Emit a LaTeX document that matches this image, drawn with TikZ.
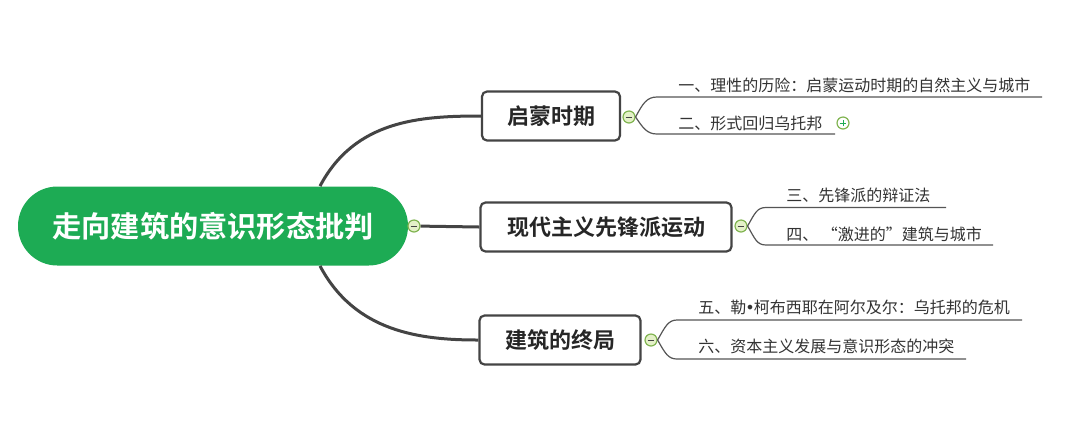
\documentclass[tikz,border=0pt]{standalone}
\usepackage{fontspec}
\setmainfont{Noto Sans CJK SC}[BoldFont={Noto Sans CJK SC Bold}]
\newfontfamily\dotfont{DejaVu Sans}
\usetikzlibrary{positioning}

\definecolor{rootgreen}{RGB}{29,171,84}
\definecolor{linegray}{RGB}{68,68,68}
\definecolor{subgray}{RGB}{85,85,85}
\definecolor{togglefill}{RGB}{228,241,200}
\definecolor{toggleline}{RGB}{128,180,80}

\begin{document}
\begin{tikzpicture}[x=0.5pt,y=-0.5pt,
  root/.style={fill=rootgreen, text=white, font=\bfseries\fontsize{14.6}{16}\selectfont,
    rounded corners=19.7pt, minimum width=195pt, minimum height=39.5pt, inner sep=0pt},
  topic/.style={draw=linegray, line width=1.1pt, fill=white, rounded corners=2.5pt,
    text=black!85, font=\bfseries\fontsize{11}{13}\selectfont, minimum height=24.5pt, inner sep=0pt},
  subtopic/.style={font=\fontsize{8}{10}\selectfont, text=black!80, anchor=base west, inner sep=0pt},
  toggle/.style={circle, draw=toggleline, fill=togglefill, minimum size=6pt, inner sep=0pt, line width=0.6pt,
    path picture={\draw[linegray, line width=0.4pt] ([xshift=-1.7pt]path picture bounding box.center)
      -- ([xshift=1.7pt]path picture bounding box.center);}},
  expand/.style={circle, draw=toggleline, fill=white, minimum size=6pt, inner sep=0pt, line width=0.6pt,
    path picture={\draw[rootgreen, line width=0.45pt] ([xshift=-1.7pt]path picture bounding box.center)
      -- ([xshift=1.7pt]path picture bounding box.center)
      ([yshift=-1.7pt]path picture bounding box.center) -- ([yshift=1.7pt]path picture bounding box.center);}},
  mainlink/.style={draw=linegray, line width=1.5pt},
  sublink/.style={draw=subgray, line width=0.6pt}
]
\fill[white] (0,0) rectangle (1080,425);
\useasboundingbox (0,0) rectangle (1080,425);

% root and main topics
\node[root] (root) at (213,226) {走向建筑的意识形态批判};
\node[toggle] (tgroot) at (414,226) {};
\node[topic, minimum width=69pt] (enlight) at (551,116) {启蒙时期};
\node[topic, minimum width=125.5pt] (avant) at (606,227) {现代主义先锋派运动};
\node[topic, minimum width=80.5pt] (endgame) at (560,340) {建筑的终局};

\coordinate (rtop) at ([xshift=53.5pt]root.north);
\coordinate (rbot) at ([xshift=53.5pt]root.south);
\draw[mainlink] (rtop) .. controls (355,120) and (420,116) .. (enlight.west);
\draw[mainlink] (rbot) .. controls (355,332) and (420,340) .. (endgame.west);
\draw[mainlink] (tgroot) -- (avant.west);

% toggles of the topics
\node[toggle] (tgenl) at (629,117) {};
\node[toggle] (tgava) at (741,226) {};
\node[toggle] (tgend) at (651,340) {};

% enlightenment
\coordinate (b1) at (657,97);  \coordinate (e1) at (1042,97);
\coordinate (b2) at (657,134); \coordinate (e2) at (835,134);
\node[subtopic] (sone) at (678,91) {一、理性的历险：启蒙运动时期的自然主义与城市};
\node[subtopic] (stwo) at (678,129) {二、形式回归乌托邦};
\node[expand] (tgplus) at (843,123) {};
\draw[sublink] (tgenl.east) .. controls (643,103) and (647,97) .. (b1) -- (e1);
\draw[sublink] (tgenl.east) .. controls (643,128) and (647,134) .. (b2) -- (e2);

% avant-garde
\coordinate (b3) at (766,207.5); \coordinate (e3) at (946,207.5);
\coordinate (b4) at (766,245);   \coordinate (e4) at (993,245);
\node[subtopic] (sthree) at (786,201) {三、先锋派的辩证法};
\node[subtopic] (sfour) at (786,240) {四、 “激进的”建筑与城市};
\draw[sublink] (tgava.east) .. controls (755,213) and (757,207.5) .. (b3) -- (e3);
\draw[sublink] (tgava.east) .. controls (755,239) and (757,245) .. (b4) -- (e4);

% endgame
\coordinate (b5) at (677,320); \coordinate (e5) at (1022,320);
\coordinate (b6) at (677,359); \coordinate (e6) at (966,359);
\node[subtopic] (sfive) at (698,313) {五、勒{\dotfont\kern-0.5pt•\kern-0.5pt}柯布西耶在阿尔及尔：乌托邦的危机};
\node[subtopic] (ssix) at (698,352) {六、资本主义发展与意识形态的冲突};
\draw[sublink] (tgend.east) .. controls (665,327) and (668,320) .. (b5) -- (e5);
\draw[sublink] (tgend.east) .. controls (665,353) and (668,359) .. (b6) -- (e6);
\end{tikzpicture}
\end{document}
